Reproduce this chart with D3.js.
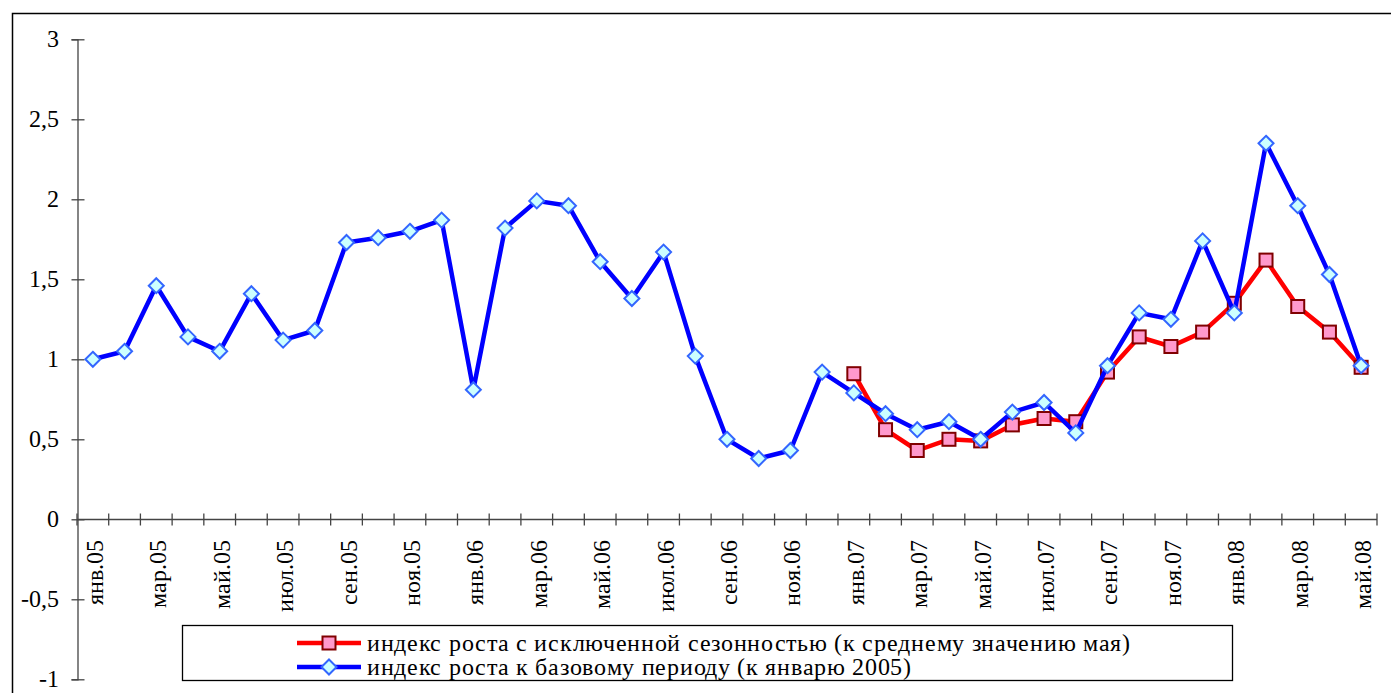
<!DOCTYPE html>
<html>
<head>
<meta charset="utf-8">
<script src="https://cdn.jsdelivr.net/npm/d3@7"></script>
<style>
  @font-face {
    font-family: "ChartSerif";
    src: local("Liberation Serif"), local("LiberationSerif"), local("Times New Roman"), local("DejaVu Serif"), local("DejaVuSerif");
  }
  html, body { margin: 0; padding: 0; background: #fff; }
  svg { display: block; }
  svg text { fill: #000; }
</style>
</head>
<body>
<svg id="chart" width="1391" height="693"></svg>
<script>
// Monthly categories, January 2005 to May 2008
const months = ["янв", "фев", "мар", "апр", "май", "июн", "июл", "авг", "сен", "окт", "ноя", "дек"];
const categories = [];
for (let y = 5; y <= 8; y++) {
  for (let m = 0; m < 12; m++) {
    if (y === 8 && m > 4) break;
    categories.push(months[m] + ".0" + y);
  }
}

// Growth index relative to the base period (January 2005 = 1)
const baseIndex = [1.00, 1.05, 1.46, 1.14, 1.05, 1.41, 1.12, 1.18, 1.73, 1.76, 1.80, 1.87,
                   0.81, 1.82, 1.99, 1.96, 1.61, 1.38, 1.67, 1.02, 0.50, 0.38, 0.43, 0.92,
                   0.79, 0.66, 0.56, 0.61, 0.50, 0.67, 0.73, 0.54, 0.96, 1.29, 1.25, 1.74,
                   1.29, 2.35, 1.96, 1.53, 0.96];

// Seasonally adjusted growth index (relative to the May average), from January 2007
const adjustedIndex = [null, null, null, null, null, null, null, null, null, null, null, null,
                       null, null, null, null, null, null, null, null, null, null, null, null,
                       0.91, 0.56, 0.43, 0.50, 0.49, 0.59, 0.63, 0.61, 0.92, 1.14, 1.08, 1.17,
                       1.35, 1.62, 1.33, 1.17, 0.95];

const yTicks = [3, 2.5, 2, 1.5, 1, 0.5, 0, -0.5, -1];

const seriesNames = [
  "индекс роста с исключенной сезонностью (к среднему значению мая)",
  "индекс роста к базовому периоду (к январю 2005)"
];

const svg = d3.select("#chart");
const fontSize = 24;
const serif = "ChartSerif, 'Liberation Serif', 'Times New Roman', 'DejaVu Serif', serif";

// Outer frame
svg.append("rect")
  .attr("x", 12.5).attr("y", 13.5)
  .attr("width", 1400).attr("height", 700)
  .attr("fill", "none").attr("stroke", "#000").attr("stroke-width", 1.5);

const x = d3.scaleBand().domain(categories).range([77, 1377]).padding(0);
const y = d3.scaleLinear().domain([-1, 3]).range([679.3, 39.3]);
const cx = c => x(c) + x.bandwidth() / 2;

const fmt = v => String(v).replace(".", ",");

// Y axis
const yAxis = svg.append("g").attr("transform", "translate(77.5,0)")
  .call(d3.axisLeft(y).tickValues(yTicks).tickFormat(fmt).tickSize(6).tickPadding(13));
yAxis.attr("font-family", serif).attr("font-size", fontSize);
yAxis.select(".domain").attr("stroke", "#444").attr("stroke-width", 1.3);
yAxis.selectAll(".tick line").attr("x1", -6).attr("x2", 7).attr("stroke", "#444").attr("stroke-width", 1.3);
yAxis.selectAll(".tick text").attr("fill", "#000");

// X axis at zero, ticks between categories
const xAxisG = svg.append("g").attr("transform", `translate(0,${Math.round(y(0)) + 0.5})`)
  .attr("font-family", serif).attr("font-size", fontSize);
xAxisG.append("line").attr("x1", 77).attr("x2", 1377)
  .attr("stroke", "#444").attr("stroke-width", 1.3);
const boundaries = categories.map(c => x(c)).concat([x(categories[categories.length - 1]) + x.bandwidth()]);
xAxisG.selectAll("line.tk").data(boundaries).join("line").attr("class", "tk")
  .attr("x1", d => d).attr("x2", d => d).attr("y1", -6).attr("y2", 6)
  .attr("stroke", "#444").attr("stroke-width", 1.3);
xAxisG.selectAll("text").data(categories.filter((c, i) => i % 2 === 0)).join("text")
  .attr("transform", d => `translate(${cx(d) + 10},20) rotate(-90)`)
  .attr("text-anchor", "end")
  .text(d => d);

// Series drawing
const lineGen = d3.line()
  .defined(d => d.v !== null)
  .x(d => cx(d.c)).y(d => y(d.v));

function squareMarker(g, pts) {
  g.selectAll("rect.m").data(pts).join("rect").attr("class", "m")
    .attr("x", d => cx(d.c) - 6.5).attr("y", d => y(d.v) - 6.5)
    .attr("width", 13).attr("height", 13)
    .attr("fill", "#FF99CC").attr("stroke", "#800000").attr("stroke-width", 2);
}
function diamondMarker(g, pts) {
  g.selectAll("path.m").data(pts).join("path").attr("class", "m")
    .attr("d", d => { const px = cx(d.c), py = y(d.v), r = 7.5;
      return `M${px},${py - r}L${px + r},${py}L${px},${py + r}L${px - r},${py}Z`; })
    .attr("fill", "#CCFFFF").attr("stroke", "#3366FF").attr("stroke-width", 2);
}

const redPts = categories.map((c, i) => ({ c, v: adjustedIndex[i] }));
const bluePts = categories.map((c, i) => ({ c, v: baseIndex[i] }));

const gRed = svg.append("g");
gRed.append("path").attr("d", lineGen(redPts))
  .attr("fill", "none").attr("stroke", "#FF0000").attr("stroke-width", 4.5).attr("stroke-linejoin", "round");
squareMarker(gRed, redPts.filter(d => d.v !== null));

const gBlue = svg.append("g");
gBlue.append("path").attr("d", lineGen(bluePts))
  .attr("fill", "none").attr("stroke", "#0000FF").attr("stroke-width", 4.5).attr("stroke-linejoin", "round");
diamondMarker(gBlue, bluePts);

// Legend
const legend = svg.append("g").attr("font-family", serif).attr("font-size", 24);
legend.append("rect").attr("x", 182.5).attr("y", 625.5).attr("width", 1050).attr("height", 55)
  .attr("fill", "#fff").attr("stroke", "#000").attr("stroke-width", 1.3);
const rows = [643, 667];
rows.forEach((ry, i) => {
  legend.append("line").attr("x1", 297).attr("x2", 361).attr("y1", ry).attr("y2", ry)
    .attr("stroke", i === 0 ? "#FF0000" : "#0000FF").attr("stroke-width", 4.5);
  if (i === 0) {
    legend.append("rect").attr("x", 329 - 6.5).attr("y", ry - 6.5).attr("width", 13).attr("height", 13)
      .attr("fill", "#FF99CC").attr("stroke", "#800000").attr("stroke-width", 2);
  } else {
    const r = 7.5;
    legend.append("path").attr("d", `M329,${ry - r}L${329 + r},${ry}L329,${ry + r}L${329 - r},${ry}Z`)
      .attr("fill", "#CCFFFF").attr("stroke", "#3366FF").attr("stroke-width", 2);
  }
  legend.append("text").attr("x", 367).attr("y", ry).attr("dy", "0.35em")
    .attr("letter-spacing", 0.7).text(seriesNames[i]);
});
</script>
</body>
</html>
